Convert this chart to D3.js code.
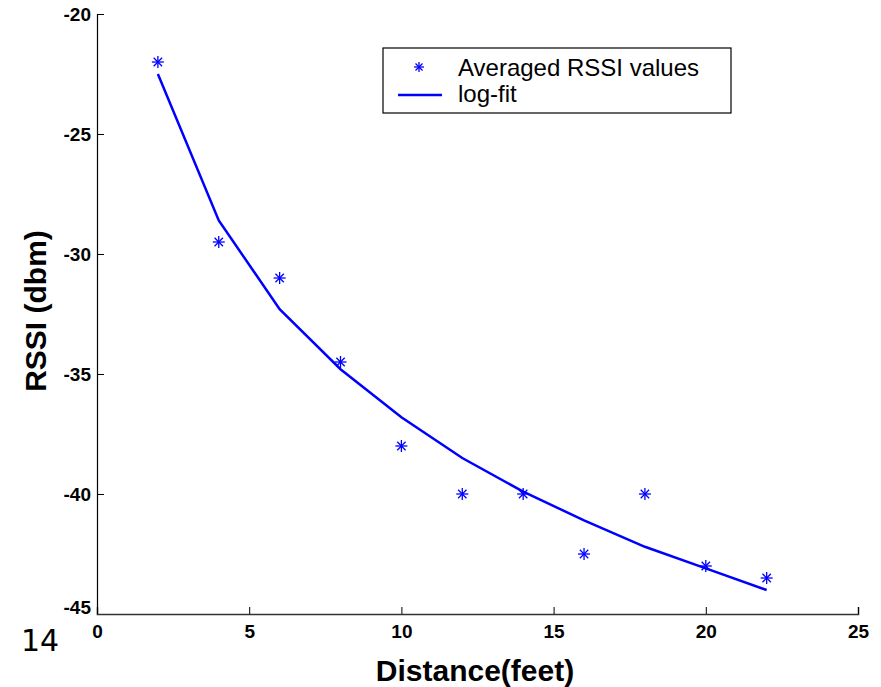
<!DOCTYPE html>
<html>
<head>
<meta charset="utf-8">
<script src="https://cdn.jsdelivr.net/npm/d3@7"></script>
<style>
  body { margin: 0; background: #fff; }
  svg { display: block; }
</style>
</head>
<body>
<svg id="chart" width="881" height="687"></svg>
<script>
// distance in feet, averaged RSSI readings
const distances = [2, 4, 6, 8, 10, 12, 14, 16, 18, 20, 22];
const rssiAvg = [-22, -29.5, -31, -34.5, -38, -40, -40, -42.5, -40, -43, -43.5];
// log-fit curve at the same distances
const rssiFit = [-22.5, -28.6, -32.3, -34.8, -36.8, -38.5, -39.9, -41.1, -42.2, -43.1, -44.0];
const xTicks = [0, 5, 10, 15, 20, 25];
const yTicks = [-20, -25, -30, -35, -40, -45];
const legendLabels = ["Averaged RSSI values", "log-fit"];

const svg = d3.select("#chart");
const plotL = 97, plotR = 858, plotT = 14, plotB = 614;
const blue = "#0000ff";
const font = "Liberation Sans, Arial, sans-serif";

const x = d3.scaleLinear().domain([0, 25]).range([plotL, plotR]);
const y = d3.scaleLinear().domain([-45, -20]).range([plotB, plotT]);

// y axis, ticks point inwards
const yAxis = svg.append("g")
  .attr("transform", `translate(${plotL},0)`)
  .call(d3.axisRight(y).tickValues(yTicks).tickSize(7).tickFormat(d => String(d)));
yAxis.attr("font-family", font).attr("font-weight", "bold").attr("font-size", 19);
yAxis.select(".domain").attr("stroke", "#000").attr("stroke-width", 1.2);
yAxis.selectAll(".tick line").attr("stroke", "#000");
yAxis.selectAll(".tick text")
  .attr("x", -6).attr("text-anchor", "end")
  .style("font-weight", "bold")
  .attr("fill", "#000");
yAxis.selectAll(".tick text").filter(d => d === -45).attr("dy", "-0.05em");

const xAxis = svg.append("g")
  .attr("transform", `translate(0,${plotB})`)
  .call(d3.axisTop(x).tickValues(xTicks).tickSize(7).tickFormat(d => String(d)));
xAxis.attr("font-family", font).attr("font-weight", "bold").attr("font-size", 19);
xAxis.select(".domain").attr("stroke", "#333").attr("stroke-width", 1.5);
xAxis.selectAll(".tick line").attr("stroke", "#000");
xAxis.selectAll(".tick text")
  .attr("y", 24).attr("dy", 0)
  .style("font-weight", "bold")
  .attr("fill", "#000");

// fit curve
const line = d3.line().x((d, i) => x(distances[i])).y(d => y(d));
svg.append("path")
  .datum(rssiFit)
  .attr("d", line)
  .attr("fill", "none")
  .attr("stroke", blue)
  .attr("stroke-width", 2.5);

// asterisk markers
function star(g, r) {
  const d = r * 0.7;
  g.append("line").attr("x1", -r).attr("x2", r).attr("y1", 0).attr("y2", 0);
  g.append("line").attr("x1", 0).attr("x2", 0).attr("y1", -r).attr("y2", r);
  g.append("line").attr("x1", -d).attr("x2", d).attr("y1", -d).attr("y2", d);
  g.append("line").attr("x1", -d).attr("x2", d).attr("y1", d).attr("y2", -d);
  g.attr("stroke", blue).attr("stroke-width", 1.3);
}
svg.append("g").selectAll("g")
  .data(rssiAvg)
  .join("g")
  .attr("transform", (d, i) => `translate(${x(distances[i])},${y(d)})`)
  .each(function () { star(d3.select(this), 6); });

// legend
const lg = svg.append("g").attr("transform", "translate(383,48)");
lg.append("rect").attr("width", 348).attr("height", 65)
  .attr("fill", "#fff").attr("stroke", "#000").attr("stroke-width", 1.2);
const s = lg.append("g").attr("transform", "translate(36,19)");
star(s, 5);
lg.append("line").attr("x1", 15).attr("x2", 59).attr("y1", 47).attr("y2", 47)
  .attr("stroke", blue).attr("stroke-width", 2.5);
lg.selectAll("text.lbl")
  .data(legendLabels)
  .join("text")
  .attr("class", "lbl")
  .attr("x", 75)
  .attr("y", (d, i) => 28 + i * 26)
  .style("font-family", font).style("font-size", "24px")
  .text(d => d);

// axis titles
svg.append("text")
  .attr("transform", "translate(46,311) rotate(-90)")
  .attr("text-anchor", "middle")
  .style("font-family", font).style("font-weight", "bold").style("font-size", "30px")
  .text("RSSI (dbm)");
svg.append("text")
  .attr("x", 475).attr("y", 681)
  .attr("text-anchor", "middle")
  .style("font-family", font).style("font-weight", "bold").style("font-size", "30px")
  .text("Distance(feet)");

// stray page number left over in the figure
svg.append("text")
  .attr("x", 21).attr("y", 651)
  .style("font-family", "DejaVu Sans, sans-serif").style("font-size", "30px")
  .text("14");
</script>
</body>
</html>
